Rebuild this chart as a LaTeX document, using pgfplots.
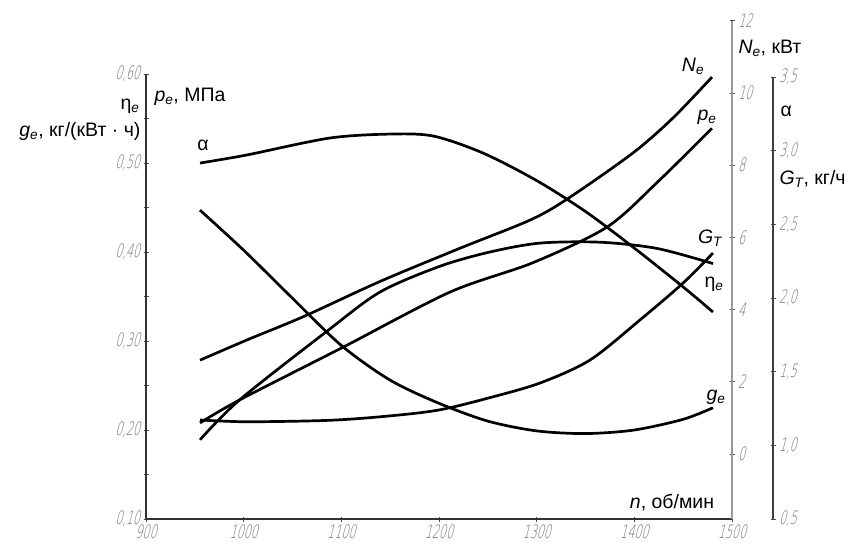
\documentclass[border=0pt]{standalone}
\usepackage{pgfplots}
\pgfplotsset{compat=1.18}
\usepackage{fontspec}
\setmainfont{Liberation Sans}
\newfontfamily\tickfont[FakeStretch=0.6,FakeSlant=0.25]{DejaVu Sans ExtraLight}
\newcommand\sub[1]{\textsubscript{\itshape #1}}

\pgfplotsset{
  common/.style={scale only axis, clip=false, xmin=900,
    at={(146pt,25pt)}, anchor=south west,
    tick align=outside, major tick length=5pt, minor tick length=5pt,
    tick style={black!70, line width=0.8pt},
    tick label style={font=\tickfont\fontsize{18.5}{18.5}\selectfont, text=black!55},
    /pgf/number format/assume math mode=true,
    /pgf/number format/1000 sep={},
  },
  crv/.style={black, line width=2.7pt, smooth, no markers},
}

\begin{document}
\begin{tikzpicture}[font=\fontsize{19.5}{22}\selectfont]
\path[use as bounding box] (0pt,0pt) rectangle (856pt,544pt);

% main axis (left: g_e, eta_e, p_e)
\begin{axis}[common, width=586pt, height=445pt, xmax=1500, ymin=0.1, ymax=0.6,
  axis x line=bottom, axis y line=left,
  axis line style={-, black!80, line width=1.1pt},
  xtick={900,1000,1100,1200,1300,1400,1500},
  ytick={0.1,0.2,0.3,0.4,0.5,0.6}, minor y tick num=1,
  yticklabel style={/pgf/number format/.cd, fixed, fixed zerofill, precision=2, use comma},
  ]
% g_e
\addplot[crv] coordinates {(955.3,0.447) (1000,0.402) (1050,0.348) (1100,0.295) (1150,0.256) (1200,0.230) (1250,0.210) (1300,0.199) (1350,0.196) (1400,0.200) (1450,0.212) (1480.5,0.225)};
% p_e
\addplot[crv] coordinates {(955.3,0.208) (996.2,0.234) (1101.7,0.293) (1211.3,0.355) (1296.2,0.388) (1372.0,0.428) (1423.2,0.478) (1479.5,0.539)};
% eta_e
\addplot[crv] coordinates {(955.3,0.189) (996.0,0.234) (1085.3,0.311) (1139.6,0.355) (1201.0,0.384) (1252.2,0.400) (1303.4,0.410) (1364.8,0.411) (1423.2,0.404) (1480.5,0.387)};
\end{axis}

% N_e axis
\begin{axis}[common, width=586pt, height=498.2pt, xmax=1500, ymin=-1.8, ymax=12,
  axis x line=none, axis y line=right,
  axis line style={-, black!40, line width=1.8pt},
  ytick={0,2,4,6,8,10,12},
  yticklabel style={/pgf/number format/.cd, fixed, precision=0},
  ]
\addplot[crv] coordinates {(955.3,2.60) (1003.4,3.16) (1060.7,3.80) (1139.6,4.78) (1221.5,5.70) (1293.2,6.48) (1331.1,7.06) (1398.6,8.34) (1439.6,9.31) (1479.5,10.44)};
\end{axis}

% alpha / G_T axis
\begin{axis}[common, width=627pt, height=442pt, xmax=1542, ymin=0.5, ymax=3.5,
  axis x line=none, axis y line=right,
  axis line style={-, black!75, line width=1.1pt},
  ytick={0.5,1,1.5,2,2.5,3,3.5},
  yticklabel style={/pgf/number format/.cd, fixed, fixed zerofill, precision=1, use comma},
  ]
% alpha
\addplot[crv] coordinates {(955.3,2.916) (1003.4,2.971) (1088.4,3.086) (1152.9,3.113) (1195.0,3.098) (1245.0,2.984) (1300.0,2.797) (1350.0,2.587) (1398.6,2.346) (1450.0,2.075) (1480.5,1.905)};
% G_T
\addplot[crv] coordinates {(955.3,1.172) (1003.4,1.160) (1088.4,1.170) (1150,1.200) (1200,1.240) (1250,1.320) (1303.4,1.423) (1354.6,1.579) (1405.8,1.851) (1450.0,2.102) (1480.5,2.305)};
\end{axis}

% axis titles
\node[anchor=east] at (143pt,438pt) {η\sub{e}};
\node[anchor=east] at (144pt,413pt) {{\itshape g}\sub{e}, кг/(кВт · ч)};
\node[anchor=west] at (151pt,447pt) {{\itshape p}\sub{e}, МПа};
\node[anchor=west] at (735pt,496pt) {{\itshape N}\sub{e}, кВт};
\node[anchor=west] at (777pt,433pt) {α};
\node[anchor=west] at (776pt,365pt) {{\itshape G}\sub{T}, кг/ч};
\node at (672pt,41pt) {{\itshape n}, об/мин};
% curve labels
\node at (203pt,399pt) {α};
\node at (693pt,478pt) {{\itshape N}\sub{e}};
\node at (707pt,427pt) {{\itshape p}\sub{e}};
\node at (710pt,306pt) {{\itshape G}\sub{T}};
\node at (714pt,260pt) {η\sub{e}};
\node at (716pt,147pt) {{\itshape g}\sub{e}};
\end{tikzpicture}
\end{document}
